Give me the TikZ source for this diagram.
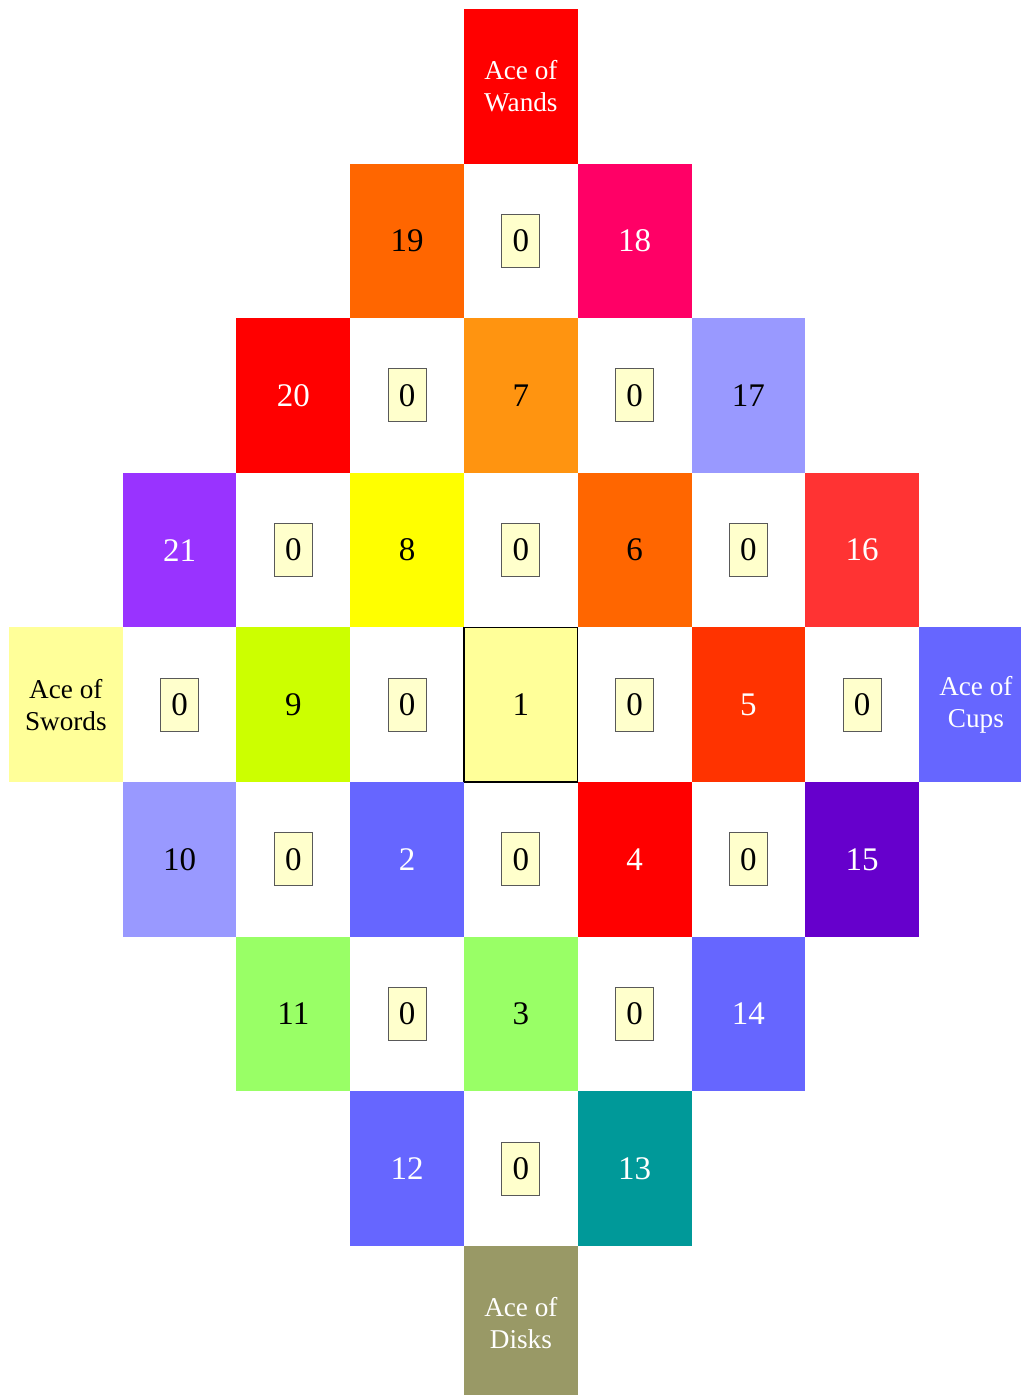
\documentclass[tikz,border=0pt]{standalone}
\usepackage{fontspec}
\setmainfont{Liberation Serif}
\usepackage{tikz}
\definecolor{TarotRed}{HTML}{FF0000}
\definecolor{TarotOrange}{HTML}{FF6600}
\definecolor{TarotRose}{HTML}{FF0066}
\definecolor{TarotAmber}{HTML}{FF9410}
\definecolor{TarotLilac}{HTML}{9999FF}
\definecolor{TarotViolet}{HTML}{9933FF}
\definecolor{TarotYellow}{HTML}{FFFF00}
\definecolor{TarotCoral}{HTML}{FF3333}
\definecolor{TarotCream}{HTML}{FFFF99}
\definecolor{TarotLime}{HTML}{CCFF00}
\definecolor{TarotVermil}{HTML}{FF3300}
\definecolor{TarotBlue}{HTML}{6666FF}
\definecolor{TarotPurple}{HTML}{6600CC}
\definecolor{TarotGreen}{HTML}{99FF66}
\definecolor{TarotTeal}{HTML}{009999}
\definecolor{TarotOlive}{HTML}{999966}
\definecolor{ZeroFill}{HTML}{FFFFCC}
\tikzset{
  cell/.style={minimum width=56.875pt, minimum height=77.3pt, inner sep=0pt,
    align=center},
  trump/.style={cell, text=black, font=\fontsize{16.5}{20}\selectfont},
  lighttrump/.style={trump, text=white},
  ace/.style={cell, text=black, font=\fontsize{13.6}{16}\selectfont},
  lightace/.style={ace, text=white},
  zero/.style={draw=black!65, line width=0.5pt, fill=ZeroFill, inner sep=0pt,
    minimum width=19pt, minimum height=26.5pt, font=\fontsize{16.5}{20}\selectfont},
  centre/.style={trump, draw=black, line width=0.6pt}
}
\begin{document}
\begin{tikzpicture}[x=56.875pt, y=-77.3pt]
  \useasboundingbox (-0.579,-0.558) rectangle (8.388,8.465);
  % row 0
  \node[lightace, fill=TarotRed] (wands) at (4,0) {Ace of\\Wands};
  % row 1
  \node[trump, fill=TarotOrange] (t19) at (3,1) {19};
  \node[zero] (z41) at (4,1) {0};
  \node[lighttrump, fill=TarotRose] (t18) at (5,1) {18};
  % row 2
  \node[lighttrump, fill=TarotRed] (t20) at (2,2) {20};
  \node[zero] (z32) at (3,2) {0};
  \node[trump, fill=TarotAmber] (t7) at (4,2) {7};
  \node[zero] (z52) at (5,2) {0};
  \node[trump, fill=TarotLilac] (t17) at (6,2) {17};
  % row 3
  \node[lighttrump, fill=TarotViolet] (t21) at (1,3) {21};
  \node[zero] (z23) at (2,3) {0};
  \node[trump, fill=TarotYellow] (t8) at (3,3) {8};
  \node[zero] (z43) at (4,3) {0};
  \node[trump, fill=TarotOrange] (t6) at (5,3) {6};
  \node[zero] (z63) at (6,3) {0};
  \node[lighttrump, fill=TarotCoral] (t16) at (7,3) {16};
  % row 4
  \node[ace, fill=TarotCream] (swords) at (0,4) {Ace of\\Swords};
  \node[zero] (z14) at (1,4) {0};
  \node[trump, fill=TarotLime] (t9) at (2,4) {9};
  \node[zero] (z34) at (3,4) {0};
  \node[centre, fill=TarotCream] (t1) at (4,4) {1};
  \node[zero] (z54) at (5,4) {0};
  \node[lighttrump, fill=TarotVermil] (t5) at (6,4) {5};
  \node[zero] (z74) at (7,4) {0};
  \node[lightace, fill=TarotBlue] (cups) at (8,4) {Ace of\\Cups};
  % row 5
  \node[trump, fill=TarotLilac] (t10) at (1,5) {10};
  \node[zero] (z25) at (2,5) {0};
  \node[lighttrump, fill=TarotBlue] (t2) at (3,5) {2};
  \node[zero] (z45) at (4,5) {0};
  \node[lighttrump, fill=TarotRed] (t4) at (5,5) {4};
  \node[zero] (z65) at (6,5) {0};
  \node[lighttrump, fill=TarotPurple] (t15) at (7,5) {15};
  % row 6
  \node[trump, fill=TarotGreen] (t11) at (2,6) {11};
  \node[zero] (z36) at (3,6) {0};
  \node[trump, fill=TarotGreen] (t3) at (4,6) {3};
  \node[zero] (z56) at (5,6) {0};
  \node[lighttrump, fill=TarotBlue] (t14) at (6,6) {14};
  % row 7
  \node[lighttrump, fill=TarotBlue] (t12) at (3,7) {12};
  \node[zero] (z47) at (4,7) {0};
  \node[lighttrump, fill=TarotTeal] (t13) at (5,7) {13};
  % row 8
  \node[lightace, fill=TarotOlive] (disks) at (4,8) {Ace of\\Disks};
\end{tikzpicture}
\end{document}
